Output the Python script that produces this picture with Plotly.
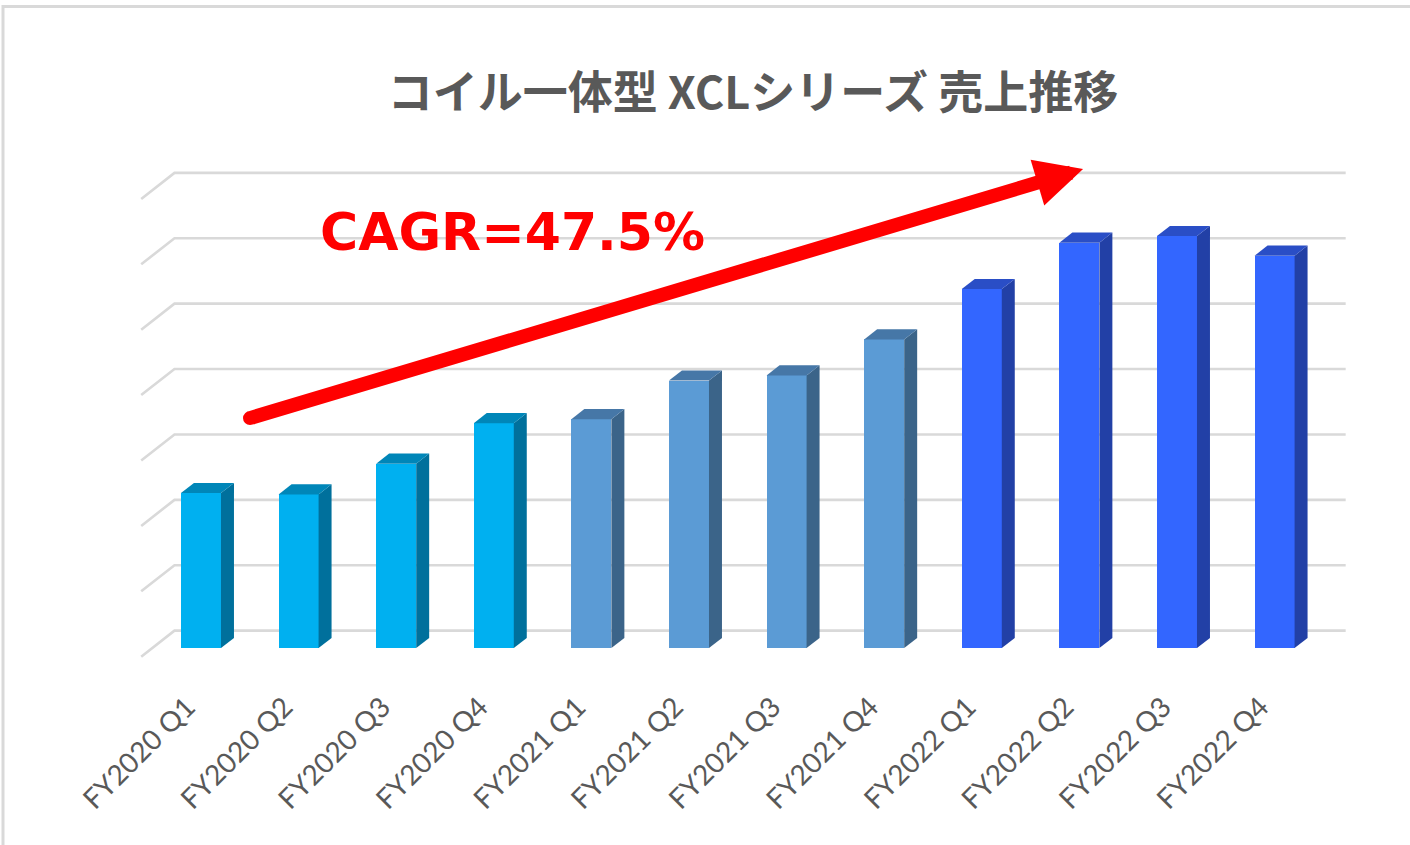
import plotly.graph_objects as go

# ---------------- data ----------------
categories = ["FY2020 Q1", "FY2020 Q2", "FY2020 Q3", "FY2020 Q4",
              "FY2021 Q1", "FY2021 Q2", "FY2021 Q3", "FY2021 Q4",
              "FY2022 Q1", "FY2022 Q2", "FY2022 Q3", "FY2022 Q4"]
sales = [2.37, 2.35, 2.82, 3.44, 3.50, 4.09, 4.17, 4.72, 5.49, 6.20, 6.30, 6.00]
fiscal_year = ["FY2020"] * 4 + ["FY2021"] * 4 + ["FY2022"] * 4
grid_values = [0, 1, 2, 3, 4, 5, 6, 7]
title_text = "コイル一体型 XCLシリーズ 売上推移"
cagr_text = "CAGR=47.5%"

# ---------------- styles ----------------
face_colors = {"FY2020": "#00B0F0", "FY2021": "#5B9BD5", "FY2022": "#3366FF"}
side_colors = {"FY2020": "#00709C", "FY2021": "#3B6489", "FY2022": "#2240A6"}
top_colors = {"FY2020": "#0086B8", "FY2021": "#4677A7", "FY2022": "#2A4EC6"}
grid_color = "#D9D9D9"
text_gray = "#595959"

# pseudo-3D geometry (in axis units)
DEPTH = (0.341, 0.398)      # full floor depth vector
BAR_T0, BAR_T1 = 0.33, 0.72  # bar depth span within floor
BAR_W = 0.41


def proj(x, y, t):
    return x + t * DEPTH[0], y + t * DEPTH[1]


fig = go.Figure()
n = len(categories)

# back-wall grid lines with slanted floor edge (drawn below all traces)
for k in grid_values:
    p0 = proj(-0.5, k, 0)
    p1 = proj(-0.5, k, 1)
    p2 = proj(n - 0.5, k, 1)
    fig.add_shape(type="path", xref="x", yref="y", layer="below",
                  path=f"M {p0[0]},{p0[1]} L {p1[0]},{p1[1]} L {p2[0]},{p2[1]}",
                  line=dict(color=grid_color, width=2.6))

# bars: front faces via Bar trace
xs_front = [i + BAR_T0 * DEPTH[0] for i in range(n)]
base_front = BAR_T0 * DEPTH[1]
fig.add_trace(go.Bar(x=xs_front, y=sales, base=base_front, width=BAR_W,
                     marker=dict(color=[face_colors[f] for f in fiscal_year], line=dict(width=0)),
                     showlegend=False, hovertext=categories))

# side and top faces
for i, (v, fy) in enumerate(zip(sales, fiscal_year)):
    xl = i - BAR_W / 2
    xr = i + BAR_W / 2
    a = proj(xr, 0, BAR_T0)
    b = proj(xr, v, BAR_T0)
    c = proj(xr, v, BAR_T1)
    d = proj(xr, 0, BAR_T1)
    fig.add_trace(go.Scatter(x=[a[0], b[0], c[0], d[0], a[0]], y=[a[1], b[1], c[1], d[1], a[1]],
                             fill="toself", fillcolor=side_colors[fy], mode="lines",
                             line=dict(width=0, color=side_colors[fy]),
                             hoverinfo="skip", showlegend=False))
    a = proj(xl, v, BAR_T0)
    b = proj(xr, v, BAR_T0)
    c = proj(xr, v, BAR_T1)
    d = proj(xl, v, BAR_T1)
    fig.add_trace(go.Scatter(x=[a[0], b[0], c[0], d[0], a[0]], y=[a[1], b[1], c[1], d[1], a[1]],
                             fill="toself", fillcolor=top_colors[fy], mode="lines",
                             line=dict(width=0, color=top_colors[fy]),
                             hoverinfo="skip", showlegend=False))

# CAGR arrow
arrow_start = (0.615, 3.648)
arrow_end = (9.15, 7.457)
fig.add_annotation(x=arrow_end[0], y=arrow_end[1], ax=arrow_start[0], ay=arrow_start[1],
                   xref="x", yref="y", axref="x", ayref="y", text="",
                   showarrow=True, arrowhead=2, arrowsize=0.68, arrowwidth=14,
                   arrowcolor="#FF0000", standoff=0, startstandoff=0)
fig.add_trace(go.Scatter(x=[arrow_start[0]], y=[arrow_start[1]], mode="markers",
                         marker=dict(color="#FF0000", size=14), hoverinfo="skip", showlegend=False))

fig.add_annotation(x=3.30, y=6.49, xref="x", yref="y", text=cagr_text, showarrow=False,
                   xanchor="center", yanchor="middle",
                   font=dict(family="DejaVu Sans", size=52, color="#FF0000", weight="bold"))

# frame border
L, R, T, B = 100, 20, 140, 165
W, H = 1410, 845
pw, ph = W - L - R, H - T - B
fig.add_shape(type="rect", xref="paper", yref="paper",
              x0=(3 - L) / pw, x1=(1430 - L) / pw,
              y0=1 - (870 - T) / ph, y1=1 - (6.5 - T) / ph,
              line=dict(color="#D9D9D9", width=3), fillcolor="rgba(0,0,0,0)", layer="below")

fig.update_layout(
    width=W, height=H,
    margin=dict(l=L, r=R, t=T, b=B),
    paper_bgcolor="white", plot_bgcolor="white",
    title=dict(text=title_text, x=753 / W, y=1 - 93 / H, xref="container", yref="container",
               xanchor="center", yanchor="middle",
               font=dict(family="Noto Sans CJK JP", size=45, color=text_gray, weight="bold")),
    xaxis=dict(range=[(L - 190) / 97.6, (W - R - 190) / 97.6],
               tickvals=[i - 0.03 for i in range(n)], ticktext=categories,
               tickangle=-45, showgrid=False, zeroline=False, showline=False, ticks="",
               ticklabelstandoff=4,
               tickfont=dict(family="Lato", size=28, color=text_gray)),
    yaxis=dict(range=[(656.7 - (H - B)) / 65.4, (656.7 - T) / 65.4],
               showgrid=False, zeroline=False, showline=False, showticklabels=False, ticks=""),
    bargap=0,
)

fig.write_html("out.html", config={"displayModeBar": False},
               post_script="document.body.style.margin='0';document.body.style.overflow='hidden';")
